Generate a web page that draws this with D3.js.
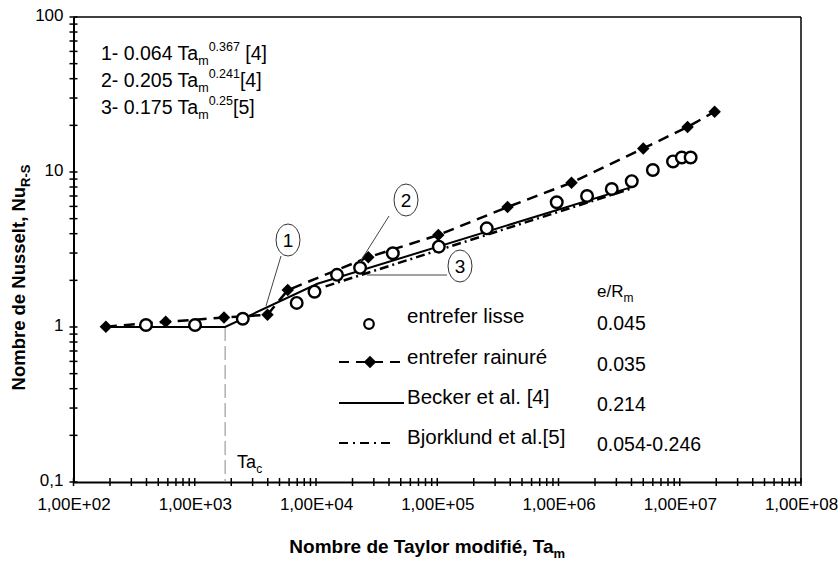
<!DOCTYPE html>
<html>
<head>
<meta charset="utf-8">
<script src="https://cdn.jsdelivr.net/npm/d3@7"></script>
<style>
  body { margin: 0; background: #fff; }
  svg text { font-family: "Liberation Sans", Arial, sans-serif; fill: #000; }
</style>
</head>
<body>
<div id="chart"></div>
<script>
// smooth gap ("entrefer lisse")
const taLisse = [396, 1005, 2490, 6930, 9720, 14900, 23100, 43000, 103000, 256000, 967000, 1720000, 2750000, 4020000, 6000000, 8800000, 10400000, 12300000];
const nuLisse = [1.03, 1.03, 1.13, 1.43, 1.69, 2.17, 2.41, 2.99, 3.30, 4.33, 6.38, 7.0, 7.77, 8.72, 10.3, 11.7, 12.4, 12.4];

// grooved gap ("entrefer rainuré")
const taRainure = [185, 576, 1743, 3980, 5850, 27000, 102000, 380000, 1280000, 5000000, 11600000, 19400000];
const nuRainure = [1.005, 1.08, 1.15, 1.2, 1.73, 2.82, 3.92, 5.94, 8.53, 14.2, 19.5, 24.5];

// correlations (vertices)
const taBecker = [185, 1780, 10270, 4000000];
const nuBecker = [1.0, 1.0, 1.9, 7.99];
const taBjork = [12000, 4000000];
const nuBjork = [1.83, 7.83];

const taCritique = 1780;

const xTicks = [1e2, 1e3, 1e4, 1e5, 1e6, 1e7, 1e8];
const xTickLabels = ["1,00E+02", "1,00E+03", "1,00E+04", "1,00E+05", "1,00E+06", "1,00E+07", "1,00E+08"];
const yTicks = [0.1, 1, 10, 100];
const yTickLabels = ["0,1", "1", "10", "100"];

const legendLabels = ["entrefer lisse", "entrefer rainuré", "Becker et al. [4]", "Bjorklund et al.[5]"];
const legendValues = ["0.045", "0.035", "0.214", "0.054-0.246"];

const formulas = [
  { n: "1-  0.064 Ta", exp: "0.367", ref: " [4]" },
  { n: "2-  0.205 Ta", exp: "0.241", ref: "[4]" },
  { n: "3-  0.175 Ta", exp: "0.25", ref: "[5]" }
];

const margin = { top: 17, right: 38, bottom: 79, left: 73.5 };
const W = 839, H = 561;
const width = W - margin.left - margin.right;
const height = H - margin.top - margin.bottom;

const svg = d3.select("#chart").append("svg")
  .attr("width", W)
  .attr("height", H);

const g = svg.append("g")
  .attr("transform", "translate(" + margin.left + "," + margin.top + ")");

const x = d3.scaleLog().domain([1e2, 1e8]).range([0, width]);
const y = d3.scaleLog().domain([0.1, 100]).range([height, 0]);

// frame
g.append("line").attr("x1", 0).attr("x2", width).attr("y1", 0).attr("y2", 0)
  .attr("stroke", "#000").attr("stroke-width", 1.5);
g.append("line").attr("x1", width).attr("x2", width).attr("y1", 0).attr("y2", height)
  .attr("stroke", "#000").attr("stroke-width", 1.5);

// x axis
const xAxis = d3.axisBottom(x)
  .tickValues(xTicks)
  .tickFormat((d, i) => xTickLabels[i])
  .tickSize(0)
  .tickPadding(16);
const gx = g.append("g")
  .attr("transform", "translate(0," + height + ")")
  .call(xAxis);
gx.select(".domain").attr("stroke", "#000").attr("stroke-width", 2);
gx.selectAll("text").attr("font-size", 17).style("font-family", "Liberation Sans, Arial, sans-serif");

// y axis
const yAxis = d3.axisLeft(y)
  .tickValues(yTicks)
  .tickFormat((d, i) => yTickLabels[i])
  .tickSize(0)
  .tickPadding(10);
const gy = g.append("g").call(yAxis);
gy.select(".domain").attr("stroke", "#000").attr("stroke-width", 2);
gy.selectAll("text").attr("font-size", 17).attr("dy", "0.2em").style("font-family", "Liberation Sans, Arial, sans-serif");

// crossing ticks (major + minor)
g.append("g").selectAll("line")
  .data(x.ticks())
  .join("line")
  .attr("x1", d => x(d)).attr("x2", d => x(d))
  .attr("y1", height - 4).attr("y2", height + 4)
  .attr("stroke", "#000").attr("stroke-width", 1.5);

g.append("g").selectAll("line")
  .data(y.ticks())
  .join("line")
  .attr("x1", -4).attr("x2", 4)
  .attr("y1", d => y(d)).attr("y2", d => y(d))
  .attr("stroke", "#000").attr("stroke-width", 1.5);

// axis titles
const xTitle = svg.append("text")
  .attr("x", margin.left + width / 2 - 10)
  .attr("y", 553)
  .attr("text-anchor", "middle")
  .attr("font-size", 19)
  .attr("font-weight", "bold");
xTitle.append("tspan").text("Nombre de Taylor modifié, Ta");
xTitle.append("tspan").text("m").attr("font-size", 13).attr("dy", 5);

const yTitle = svg.append("text")
  .attr("transform", "translate(25," + (margin.top + height / 2 + 28) + ") rotate(-90)")
  .attr("text-anchor", "middle")
  .attr("font-size", 18.5)
  .attr("font-weight", "bold");
yTitle.append("tspan").text("Nombre de Nusselt, Nu");
yTitle.append("tspan").text("R-S").attr("font-size", 13).attr("dy", 5);

// critical Taylor number
g.append("line")
  .attr("x1", x(taCritique)).attr("x2", x(taCritique))
  .attr("y1", y(1)).attr("y2", height)
  .attr("stroke", "#888").attr("stroke-width", 1)
  .attr("stroke-dasharray", "14,5");

const taC = g.append("text")
  .attr("x", x(taCritique) + 12)
  .attr("y", height - 14)
  .attr("font-size", 18);
taC.append("tspan").text("Ta");
taC.append("tspan").text("c").attr("font-size", 12).attr("dy", 5);

// lines
const line = d3.line().x(d => x(d[0])).y(d => y(d[1]));

g.append("path")
  .datum(d3.zip(taBecker, nuBecker))
  .attr("d", line)
  .attr("fill", "none").attr("stroke", "#000").attr("stroke-width", 2);

g.append("path")
  .datum(d3.zip(taBjork, nuBjork))
  .attr("d", line)
  .attr("fill", "none").attr("stroke", "#000").attr("stroke-width", 2.5)
  .attr("stroke-dasharray", "9,4,2,4");

g.append("path")
  .datum(d3.zip(taRainure, nuRainure))
  .attr("d", line)
  .attr("fill", "none").attr("stroke", "#000").attr("stroke-width", 2.5)
  .attr("stroke-dasharray", "11,7");

// markers
const diamond = d3.symbol().type(d3.symbolSquare).size(78);
g.append("g").selectAll("path")
  .data(d3.zip(taRainure, nuRainure))
  .join("path")
  .attr("d", diamond)
  .attr("transform", d => "translate(" + x(d[0]) + "," + y(d[1]) + ") rotate(45)")
  .attr("fill", "#000");

g.append("g").selectAll("circle")
  .data(d3.zip(taLisse, nuLisse))
  .join("circle")
  .attr("cx", d => x(d[0])).attr("cy", d => y(d[1]))
  .attr("r", 5.8)
  .attr("fill", "#fff").attr("stroke", "#000").attr("stroke-width", 2.4);

// numbered callouts
const callouts = [
  { label: "1", cx: 288, cy: 240, rx: 12, ry: 16, lx1: 281, ly1: 256, lx2: 266, ly2: 306 },
  { label: "2", cx: 406, cy: 200, rx: 12, ry: 16, lx1: 389, ly1: 216, lx2: 360, ly2: 262 },
  { label: "3", cx: 460, cy: 266, rx: 12, ry: 16, lx1: 447, ly1: 275, lx2: 367, ly2: 275 }
];
callouts.forEach(c => {
  svg.append("line")
    .attr("x1", c.lx1).attr("y1", c.ly1).attr("x2", c.lx2).attr("y2", c.ly2)
    .attr("stroke", "#444").attr("stroke-width", 1);
  svg.append("ellipse")
    .attr("cx", c.cx).attr("cy", c.cy).attr("rx", c.rx).attr("ry", c.ry)
    .attr("fill", "#fff").attr("stroke", "#333").attr("stroke-width", 1);
  svg.append("text")
    .attr("x", c.cx).attr("y", c.cy + 7)
    .attr("text-anchor", "middle")
    .attr("font-size", 19)
    .text(c.label);
});

// formulas (top left)
formulas.forEach((f, i) => {
  const t = svg.append("text")
    .attr("x", 101)
    .attr("y", 60 + i * 27)
    .attr("font-size", 19.5);
  t.append("tspan").text(f.n);
  t.append("tspan").text("m").attr("font-size", 12.5).attr("dy", 5);
  t.append("tspan").text(f.exp).attr("font-size", 12.5).attr("dy", -14);
  t.append("tspan").text(f.ref).attr("dy", 9);
});

// legend
const legY = [316, 357, 397, 437];
const header = svg.append("text")
  .attr("x", 597).attr("y", 297)
  .attr("font-size", 17);
header.append("tspan").text("e/R");
header.append("tspan").text("m").attr("font-size", 12).attr("dy", 5);

legendLabels.forEach((lab, i) => {
  svg.append("text")
    .attr("x", 407).attr("y", legY[i] + 7)
    .attr("font-size", 20.5)
    .text(lab);
  svg.append("text")
    .attr("x", 597).attr("y", legY[i] + 14)
    .attr("font-size", 19.5)
    .text(legendValues[i]);
});

// legend symbols
svg.append("circle")
  .attr("cx", 369).attr("cy", 324).attr("r", 4.8)
  .attr("fill", "#fff").attr("stroke", "#000").attr("stroke-width", 2.2);

svg.append("line")
  .attr("x1", 339).attr("x2", 402).attr("y1", 362).attr("y2", 362)
  .attr("stroke", "#000").attr("stroke-width", 2)
  .attr("stroke-dasharray", "10,7");
svg.append("path")
  .attr("d", diamond)
  .attr("transform", "translate(370,362) rotate(45)")
  .attr("fill", "#000");

svg.append("line")
  .attr("x1", 339).attr("x2", 404).attr("y1", 403).attr("y2", 403)
  .attr("stroke", "#000").attr("stroke-width", 2);

svg.append("line")
  .attr("x1", 339).attr("x2", 394).attr("y1", 443).attr("y2", 443)
  .attr("stroke", "#000").attr("stroke-width", 2)
  .attr("stroke-dasharray", "9,5,2,5");
</script>
</body>
</html>
